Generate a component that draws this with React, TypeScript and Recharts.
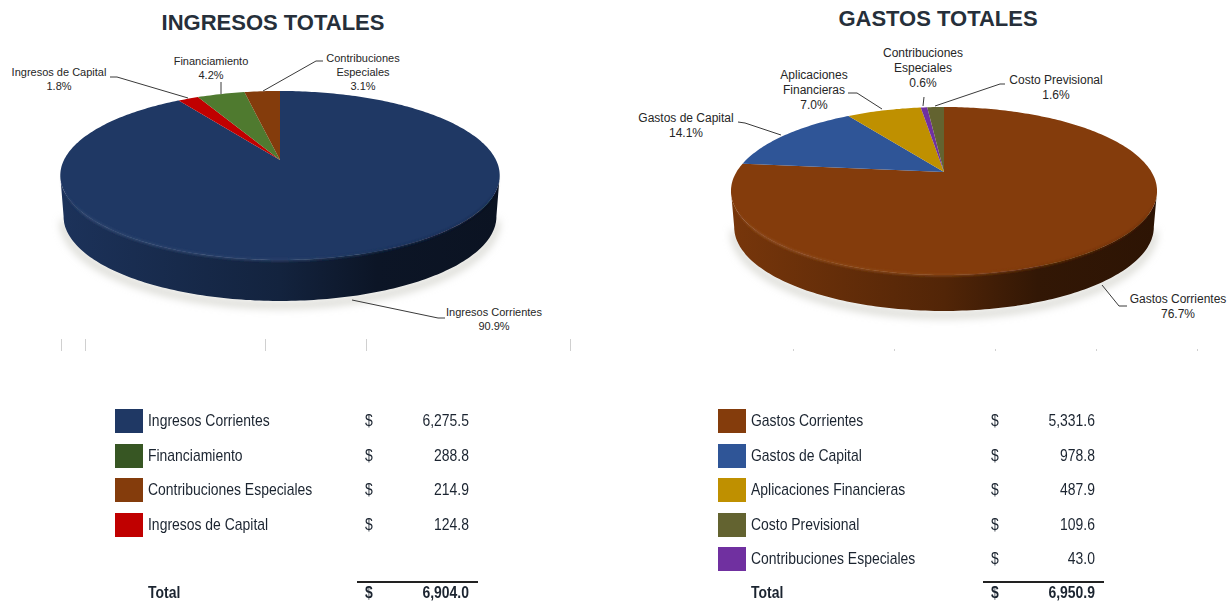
import React from 'react'
import { PieChart, Pie, Cell } from 'recharts'

// slices run clockwise from 12 o'clock, table rows are sorted by amount
const ingresosCategories = ['Ingresos Corrientes', 'Financiamiento', 'Contribuciones Especiales', 'Ingresos de Capital']
const ingresosValues = [6275.5, 288.8, 214.9, 124.8]
const ingresosTotal = 6904.0
const ingresosPieOrder = ['Ingresos Corrientes', 'Ingresos de Capital', 'Financiamiento', 'Contribuciones Especiales']

const gastosCategories = ['Gastos Corrientes', 'Gastos de Capital', 'Aplicaciones Financieras', 'Costo Previsional', 'Contribuciones Especiales']
const gastosValues = [5331.6, 978.8, 487.9, 109.6, 43.0]
const gastosTotal = 6950.9
const gastosPieOrder = ['Gastos Corrientes', 'Gastos de Capital', 'Aplicaciones Financieras', 'Contribuciones Especiales', 'Costo Previsional']

const ingresosSlice: Record<string, string> = {
  'Ingresos Corrientes': '#1f3864',
  'Ingresos de Capital': '#c00000',
  Financiamiento: '#4f7a2f',
  'Contribuciones Especiales': '#843c0c'
}
const ingresosSwatch = ['#1f3864', '#375623', '#843c0c', '#c00000']

const gastosSlice: Record<string, string> = {
  'Gastos Corrientes': '#843c0c',
  'Gastos de Capital': '#2f5597',
  'Aplicaciones Financieras': '#bf9000',
  'Contribuciones Especiales': '#7030a0',
  'Costo Previsional': '#636330'
}
const gastosSwatch = ['#843c0c', '#2f5597', '#bf9000', '#636330', '#7030a0']

type Callout = { lines: string[]; x: number; y: number; line: number[][] }

const ingresosCallouts: Record<string, Callout> = {
  'Ingresos de Capital': { lines: ['Ingresos de Capital'], x: 59, y: 76, line: [[110, 77], [117, 77], [188, 98]] },
  Financiamiento: { lines: ['Financiamiento'], x: 211, y: 65, line: [[221, 82], [221, 94]] },
  'Contribuciones Especiales': { lines: ['Contribuciones', 'Especiales'], x: 363, y: 62, line: [[323, 61], [316, 61], [263, 91]] },
  'Ingresos Corrientes': { lines: ['Ingresos Corrientes'], x: 494, y: 316, line: [[352, 300], [438, 318], [445, 318]] }
}
const gastosCallouts: Record<string, Callout> = {
  'Gastos de Capital': { lines: ['Gastos de Capital'], x: 686, y: 122, line: [[738, 122], [745, 123], [781, 135]] },
  'Aplicaciones Financieras': { lines: ['Aplicaciones', 'Financieras'], x: 814, y: 79, line: [[848, 93], [857, 93], [882, 109]] },
  'Contribuciones Especiales': { lines: ['Contribuciones', 'Especiales'], x: 923, y: 57, line: [[924, 97], [923, 106]] },
  'Costo Previsional': { lines: ['Costo Previsional'], x: 1056, y: 84, line: [[1005, 84], [1000, 84], [935, 106]] },
  'Gastos Corrientes': { lines: ['Gastos Corrientes'], x: 1178, y: 303, line: [[1102, 285], [1119, 306], [1127, 306]] }
}

const leftTicks = [61, 85, 265, 366, 570]
const rightTicks = [793, 894, 995, 1096, 1197]

const money = (v: number) => v.toLocaleString('en-US', { minimumFractionDigits: 1, maximumFractionDigits: 1 })

const shade = (hex: string, f: number) => {
  const n = parseInt(hex.slice(1), 16)
  const ch = (c: number) => Math.round(f <= 1 ? c * f : c + (255 - c) * (f - 1))
  return `rgb(${ch((n >> 16) & 255)},${ch((n >> 8) & 255)},${ch(n & 255)})`
}

const toPath = (pts: number[][]) => pts.map((p, i) => `${i ? 'L' : 'M'}${p[0].toFixed(1)},${p[1].toFixed(1)}`).join(' ')

// the library hands over the angles, this only tilts them into perspective
const tiltedSector = (id: string, persp: number, squash: number, depth: number) => (props: any) => {
  const { cx, cy, outerRadius, startAngle, endAngle, fill } = props
  const rim = (deg: number) => {
    const t = (deg * Math.PI) / 180
    const d = 1 + persp * Math.cos(t)
    return [cx + (outerRadius * Math.sin(t)) / d, cy - (outerRadius * squash * Math.cos(t)) / d]
  }
  const from = 90 - startAngle
  const to = 90 - endAngle
  const sample = (a: number, b: number) => {
    const pts: number[][] = []
    for (let s = a; s < b; s += 1) pts.push(rim(s))
    pts.push(rim(b))
    return pts
  }
  const frontA = (Math.acos(-persp) * 180) / Math.PI
  const wallFrom = Math.max(from, frontA)
  const wallTo = Math.min(to, 360 - frontA)
  const gid = `${id}-${props.index}`
  let wall = null
  if (wallTo > wallFrom) {
    const edge = sample(wallFrom, wallTo)
    const low = edge.map((p) => [cx + (p[0] - cx) * 0.985, p[1] + depth]).reverse()
    wall = (
      <g>
        <defs>
          <linearGradient id={`w-${gid}`} x1="0" x2="1" y1="0" y2="0">
            <stop offset="0%" stopColor={shade(fill, 0.9)} />
            <stop offset="50%" stopColor={shade(fill, 0.62)} />
            <stop offset="72%" stopColor={shade(fill, 0.38)} />
            <stop offset="100%" stopColor={shade(fill, 0.34)} />
          </linearGradient>
          <linearGradient id={`b-${gid}`} x1="0" x2="1" y1="0" y2="0">
            <stop offset="0%" stopColor={shade(fill, 1.1)} stopOpacity={0} />
            <stop offset="6%" stopColor={shade(fill, 1.1)} stopOpacity={0.65} />
            <stop offset="50%" stopColor={shade(fill, 1.08)} stopOpacity={0.5} />
            <stop offset="80%" stopColor={shade(fill, 0.75)} stopOpacity={0.5} />
            <stop offset="97%" stopColor={shade(fill, 0.6)} stopOpacity={0.3} />
            <stop offset="100%" stopColor={shade(fill, 0.6)} stopOpacity={0} />
          </linearGradient>
          <filter id={`s-${gid}`} x="-10%" y="-30%" width="120%" height="160%">
            <feGaussianBlur stdDeviation="4" />
          </filter>
          <filter id={`e-${gid}`} x="-5%" y="-20%" width="110%" height="140%">
            <feGaussianBlur stdDeviation="1.2" />
          </filter>
        </defs>
        <path d={toPath(low)} transform="translate(0,4)" fill="none" stroke="#c8c8c0" strokeWidth={5} filter={`url(#s-${gid})`} />
        <path d={`${toPath(edge)} L${toPath(low).slice(1)} Z`} fill={`url(#w-${gid})`} />
        <path d={`${toPath(edge)}`} fill="none" stroke={`url(#b-${gid})`} strokeWidth={2.5} filter={`url(#e-${gid})`} />
      </g>
    )
  }
  const face = `M${cx},${cy} L${toPath(sample(from, to)).slice(1)} Z`
  return (
    <g>
      {wall}
      <path d={face} fill={fill} />
      {wall && <path d={`${toPath(sample(wallFrom, wallTo))}`} fill="none" stroke={`url(#b-${gid})`} strokeWidth={2.5} filter={`url(#e-${gid})`} />}
    </g>
  )
}

const calloutLabel = (callouts: Record<string, Callout>, total: number, size: number) => (props: any) => {
  const c = callouts[props.name]
  if (!c) return null
  const rows = [...c.lines, `${((props.value / total) * 100).toFixed(1)}%`]
  const step = size + 3
  return (
    <g key={props.name}>
      <polyline points={c.line.map((p) => p.join(',')).join(' ')} fill="none" stroke="#3a3a3a" strokeWidth={1} />
      <text textAnchor="middle" fontFamily="Liberation Sans" fontSize={size} fill="#262626">
        {rows.map((r, i) => (
          <tspan key={r} x={c.x} y={c.y + i * step}>
            {r}
          </tspan>
        ))}
      </text>
    </g>
  )
}

const pieRows = (order: string[], cats: string[], vals: number[]) =>
  order.map((name) => ({ name, value: vals[cats.indexOf(name)] }))

// no narrow face installed, so Liberation Sans gets squeezed
const cellText: React.CSSProperties = {
  position: 'absolute',
  fontFamily: '"Liberation Sans"',
  fontSize: 17,
  lineHeight: '20px',
  color: '#1b2430',
  whiteSpace: 'nowrap',
  transform: 'scaleX(0.82)',
  transformOrigin: 'left center'
}
const amountText: React.CSSProperties = { ...cellText, width: 100, textAlign: 'right', transformOrigin: 'right center' }

const Table: React.FC<{ left: number; gap: number; cats: string[]; vals: number[]; swatches: string[]; total: number }> = ({ left, gap, cats, vals, swatches, total }) => (
  <>
    {cats.map((c, i) => {
      const top = 409 + i * 34.5
      return (
        <React.Fragment key={c}>
          <div style={{ position: 'absolute', left, top, width: 28, height: 24, background: swatches[i] }} />
          <div style={{ ...cellText, left: left + 33, top: top + 2 }}>{c}</div>
          <div style={{ ...cellText, left: left + 250 + gap, top: top + 2 }}>$</div>
          <div style={{ ...amountText, left: left + 254 + gap, top: top + 2 }}>{money(vals[i])}</div>
        </React.Fragment>
      )
    })}
    <div style={{ position: 'absolute', left: left + 242 + gap, top: 581, width: 121, height: 2, background: '#222' }} />
    <div style={{ ...cellText, left: left + 33, top: 583, fontWeight: 700 }}>Total</div>
    <div style={{ ...cellText, left: left + 250 + gap, top: 583, fontWeight: 700 }}>$</div>
    <div style={{ ...amountText, left: left + 254 + gap, top: 583, fontWeight: 700 }}>{money(total)}</div>
  </>
)

export default function App() {
  const ingresos = pieRows(ingresosPieOrder, ingresosCategories, ingresosValues)
  const gastos = pieRows(gastosPieOrder, gastosCategories, gastosValues)
  return (
    <div style={{ position: 'absolute', left: 0, top: 0, width: 1230, height: 602, background: '#fff', overflow: 'hidden' }}>
      <PieChart width={1230} height={360} margin={{ top: 0, right: 0, bottom: 0, left: 0 }}>
        <text x={273} y={30} textAnchor="middle" fontFamily="Liberation Sans" fontWeight={700} fontSize={22} fill="#262f3a">
          INGRESOS TOTALES
        </text>
        <text x={938} y={26} textAnchor="middle" fontFamily="Liberation Sans" fontWeight={700} fontSize={22} fill="#262f3a">
          GASTOS TOTALES
        </text>
        <Pie
          data={ingresos}
          dataKey="value"
          nameKey="name"
          cx={280}
          cy={160}
          outerRadius={216}
          startAngle={90}
          endAngle={-270}
          stroke="none"
          isAnimationActive={false}
          shape={tiltedSector('ing', 0.183, 0.378, 41)}
          label={calloutLabel(ingresosCallouts, ingresosTotal, 11)}
          labelLine={false}
        >
          {ingresos.map((d) => (
            <Cell key={d.name} fill={ingresosSlice[d.name]} />
          ))}
        </Pie>
        <Pie
          data={gastos}
          dataKey="value"
          nameKey="name"
          cx={944}
          cy={172}
          outerRadius={207.5}
          startAngle={90}
          endAngle={-270}
          stroke="none"
          isAnimationActive={false}
          shape={tiltedSector('gas', 0.226, 0.384, 36)}
          label={calloutLabel(gastosCallouts, gastosTotal, 12)}
          labelLine={false}
        >
          {gastos.map((d) => (
            <Cell key={d.name} fill={gastosSlice[d.name]} />
          ))}
        </Pie>
      </PieChart>
      {leftTicks.map((x) => (
        <div key={x} style={{ position: 'absolute', left: x, top: 339, width: 1, height: 12, background: '#d0d0d0' }} />
      ))}
      {rightTicks.map((x) => (
        <div key={x} style={{ position: 'absolute', left: x, top: 349, width: 1, height: 2, background: '#d0d0d0' }} />
      ))}
      <Table left={115} gap={0} cats={ingresosCategories} vals={ingresosValues} swatches={ingresosSwatch} total={ingresosTotal} />
      <Table left={718} gap={23} cats={gastosCategories} vals={gastosValues} swatches={gastosSwatch} total={gastosTotal} />
    </div>
  )
}
